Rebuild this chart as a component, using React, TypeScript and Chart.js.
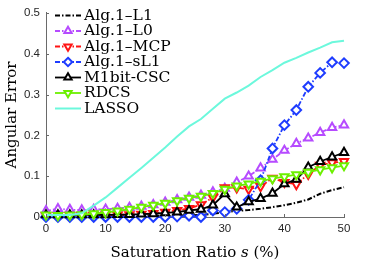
import React, { useEffect, useRef } from 'react';
import { Chart, registerables } from 'chart.js';

Chart.register(...registerables);

// ---- data ----
const saturation = [0, 2, 4, 6, 8, 10, 12, 14, 16, 18, 20, 22, 24, 26, 28, 30, 32, 34, 36, 38, 40, 42, 44, 46, 48, 50];
const alg1L1 = [0.002, 0.002, 0.002, 0.002, 0.002, 0.002, 0.002, 0.002, 0.003, 0.003, 0.003, 0.004, 0.004, 0.005, 0.008, 0.012, 0.015, 0.017, 0.02, 0.024, 0.029, 0.035, 0.043, 0.057, 0.066, 0.073];
const alg1L0 = [0.015, 0.02, 0.018, 0.017, 0.018, 0.019, 0.021, 0.023, 0.026, 0.03, 0.036, 0.042, 0.048, 0.053, 0.061, 0.07, 0.085, 0.1, 0.12, 0.141, 0.163, 0.18, 0.193, 0.207, 0.219, 0.225];
const alg1MCP = [0.004, 0.004, 0.004, 0.004, 0.004, 0.005, 0.005, 0.006, 0.007, 0.009, 0.012, 0.016, 0.021, 0.03, 0.048, 0.072, 0.072, 0.068, 0.075, 0.095, 0.085, 0.08, 0.105, 0.127, 0.133, 0.136];
const alg1sL1 = [0.0, 0.0, 0.0, 0.0, 0.0, 0.0, 0.0, 0.0, 0.0, 0.0, 0.0, 0.001, 0.003, 0.0, 0.016, 0.012, 0.02, 0.042, 0.09, 0.168, 0.225, 0.262, 0.319, 0.353, 0.379, 0.377];
const m1bitCSC = [0.005, 0.005, 0.005, 0.005, 0.005, 0.005, 0.006, 0.006, 0.007, 0.008, 0.01, 0.012, 0.016, 0.019, 0.029, 0.057, 0.024, 0.037, 0.045, 0.058, 0.081, 0.092, 0.122, 0.136, 0.147, 0.158];
const rdcs = [0.005, 0.004, 0.005, 0.006, 0.008, 0.011, 0.015, 0.019, 0.024, 0.029, 0.034, 0.04, 0.046, 0.051, 0.058, 0.068, 0.076, 0.081, 0.088, 0.094, 0.099, 0.104, 0.11, 0.116, 0.121, 0.126];
const lasso = [0.005, 0.005, 0.005, 0.009, 0.028, 0.048, 0.072, 0.096, 0.12, 0.145, 0.17, 0.197, 0.222, 0.24, 0.265, 0.29, 0.305, 0.322, 0.343, 0.36, 0.378, 0.39, 0.403, 0.415, 0.428, 0.432];

const xTicks = [0, 10, 20, 30, 40, 50];
const yTicks = [0, 0.1, 0.2, 0.3, 0.4, 0.5];
const seriesNames = ['Alg.1\u2013L1', 'Alg.1\u2013L0', 'Alg.1\u2013MCP', 'Alg.1\u2013sL1', 'M1bit-CSC', 'RDCS', 'LASSO'];

const SERIF = '"DejaVu Serif", serif';
const SANS = '"Liberation Sans", Arial, sans-serif';
const AXIS_COLOR = '#6a6a6a';

type Style = {
  color: string;
  dash: number[];
  width: number;
  marker: string | false;
  rotation: number;
};

const styles: Style[] = [
  { color: '#000000', dash: [5, 2, 1.5, 2], width: 2, marker: false, rotation: 0 },
  { color: '#B64BFF', dash: [5, 2, 1.5, 2], width: 1.8, marker: 'triangle', rotation: 0 },
  { color: '#FF1414', dash: [5, 2, 1.5, 2], width: 1.8, marker: 'triangle', rotation: 180 },
  { color: '#1E3CFF', dash: [5, 2, 1.5, 2], width: 1.8, marker: 'rectRot', rotation: 0 },
  { color: '#000000', dash: [], width: 1.8, marker: 'triangle', rotation: 0 },
  { color: '#6CF000', dash: [], width: 1.8, marker: 'triangle', rotation: 180 },
  { color: '#6CF8DC', dash: [], width: 2, marker: false, rotation: 0 },
];

const seriesData = [alg1L1, alg1L0, alg1MCP, alg1sL1, m1bitCSC, rdcs, lasso];

const MARKER_R = 4.8;
const MARKER_W = 2;

function drawMarker(ctx: CanvasRenderingContext2D, st: Style, x: number, y: number, r: number) {
  if (!st.marker) return;
  ctx.save();
  ctx.setLineDash([]);
  ctx.lineWidth = MARKER_W;
  ctx.strokeStyle = st.color;
  ctx.fillStyle = '#ffffff';
  ctx.beginPath();
  if (st.marker === 'triangle') {
    const rot = (st.rotation * Math.PI) / 180;
    for (let i = 0; i < 3; i++) {
      const a = rot - Math.PI / 2 + (i * 2 * Math.PI) / 3;
      const px = x + Math.cos(a) * r;
      const py = y + Math.sin(a) * r;
      if (i === 0) ctx.moveTo(px, py);
      else ctx.lineTo(px, py);
    }
  } else {
    ctx.moveTo(x, y - r);
    ctx.lineTo(x + r, y);
    ctx.lineTo(x, y + r);
    ctx.lineTo(x - r, y);
  }
  ctx.closePath();
  ctx.fill();
  ctx.stroke();
  ctx.restore();
}

const overlayPlugin = {
  id: 'overlay',
  afterDraw(chart: any) {
    const ctx: CanvasRenderingContext2D = chart.ctx;
    const { left, right, top, bottom } = chart.chartArea;
    const xs = chart.scales.x;
    const ys = chart.scales.y;
    ctx.save();
    // inward tick marks
    ctx.strokeStyle = AXIS_COLOR;
    ctx.lineWidth = 1;
    ctx.setLineDash([]);
    xTicks.forEach((v) => {
      const px = Math.round(xs.getPixelForValue(v)) + 0.5;
      ctx.beginPath();
      ctx.moveTo(px, bottom);
      ctx.lineTo(px, bottom - 3);
      ctx.stroke();
    });
    yTicks.forEach((v) => {
      const py = Math.round(ys.getPixelForValue(v)) + 0.5;
      ctx.beginPath();
      ctx.moveTo(left, py);
      ctx.lineTo(left + 3, py);
      ctx.stroke();
    });

    // legend
    const lx0 = 55;
    const lx1 = 81;
    const rowY0 = 15.5;
    const rowStep = 15.5;
    ctx.font = `15.5px ${SERIF}`;
    ctx.textBaseline = 'middle';
    ctx.textAlign = 'left';
    seriesNames.forEach((name, i) => {
      const st = styles[i];
      const y = rowY0 + i * rowStep;
      ctx.save();
      ctx.strokeStyle = st.color;
      ctx.lineWidth = st.width;
      ctx.setLineDash(st.dash);
      ctx.beginPath();
      ctx.moveTo(lx0, y);
      ctx.lineTo(lx1, y);
      ctx.stroke();
      ctx.restore();
      drawMarker(ctx, st, (lx0 + lx1) / 2, y, 4.2);
      ctx.fillStyle = '#000000';
      ctx.fillText(name, 84, y);
    });

    // x axis title with italic s
    const partA = 'Saturation Ratio ';
    const partB = 's';
    const partC = ' (%)';
    ctx.textBaseline = 'alphabetic';
    ctx.fillStyle = '#000000';
    ctx.font = `15px ${SERIF}`;
    const wA = ctx.measureText(partA).width;
    const wC = ctx.measureText(partC).width;
    ctx.font = `italic 15px ${SERIF}`;
    const wB = ctx.measureText(partB).width;
    const total = wA + wB + wC;
    let cx = (left + right) / 2 - total / 2;
    const by = 256.5;
    ctx.font = `15px ${SERIF}`;
    ctx.fillText(partA, cx, by);
    cx += wA;
    ctx.font = `italic 15px ${SERIF}`;
    ctx.fillText(partB, cx, by);
    cx += wB;
    ctx.font = `15px ${SERIF}`;
    ctx.fillText(partC, cx, by);

    // y axis title
    ctx.save();
    ctx.translate(15.5, (top + bottom) / 2);
    ctx.rotate(-Math.PI / 2);
    ctx.textAlign = 'center';
    ctx.textBaseline = 'alphabetic';
    ctx.font = `15px ${SERIF}`;
    ctx.fillText('Angular Error', 0, 0);
    ctx.restore();

    ctx.restore();
  },
};

export default function App() {
  const canvasRef = useRef<HTMLCanvasElement | null>(null);

  useEffect(() => {
    const canvas = canvasRef.current;
    if (!canvas) return;
    const order = [6, 5, 4, 3, 2, 1, 0];
    const datasets = seriesNames.map((name, i) => {
      const st = styles[i];
      return {
        label: name,
        data: saturation.map((s, k) => ({ x: s, y: seriesData[i][k] })),
        borderColor: st.color,
        backgroundColor: '#ffffff',
        borderWidth: st.width,
        borderDash: st.dash,
        pointStyle: st.marker || 'circle',
        pointRadius: st.marker ? MARKER_R : 0,
        pointRotation: st.rotation,
        pointBorderWidth: MARKER_W,
        pointBorderColor: st.color,
        pointBackgroundColor: '#ffffff',
        tension: 0,
        fill: false,
        clip: false,
        order: order[i],
      };
    });

    const chart = new Chart(canvas, {
      type: 'line',
      data: { datasets },
      options: {
        animation: false,
        responsive: false,
        devicePixelRatio: 1,
        layout: { padding: { left: 0, right: 30, top: 11, bottom: 0 } },
        plugins: {
          legend: { display: false },
          tooltip: { enabled: false },
          title: { display: false },
        },
        scales: {
          x: {
            type: 'linear',
            min: 0,
            max: 50,
            afterFit: (s: any) => {
              s.height = 47;
            },
            afterBuildTicks: (s: any) => {
              s.ticks = xTicks.map((v) => ({ value: v }));
            },
            ticks: {
              color: '#262626',
              font: { family: SANS, size: 11.5 },
              padding: 5,
              maxRotation: 0,
              callback: (v: any) => String(v),
            },
            grid: { display: true, drawOnChartArea: false, drawTicks: false },
            border: { display: true, color: AXIS_COLOR, width: 1 },
          },
          y: {
            type: 'linear',
            min: 0,
            max: 0.5,
            afterFit: (s: any) => {
              s.width = 46;
            },
            afterBuildTicks: (s: any) => {
              s.ticks = yTicks.map((v) => ({ value: v }));
            },
            ticks: {
              color: '#262626',
              font: { family: SANS, size: 11.5 },
              padding: 6,
              callback: (v: any) => (v === 0 ? '0' : Number(v).toFixed(1)),
            },
            grid: { display: true, drawOnChartArea: false, drawTicks: false },
            border: { display: true, color: AXIS_COLOR, width: 1 },
          },
        },
      },
      plugins: [overlayPlugin],
    });

    return () => {
      chart.destroy();
    };
  }, []);

  return (
    <div style={{ position: 'fixed', left: 0, top: 0, width: 374, height: 264, background: '#ffffff' }}>
      <canvas ref={canvasRef} width={374} height={264} style={{ display: 'block', width: 374, height: 264 }} />
    </div>
  );
}
